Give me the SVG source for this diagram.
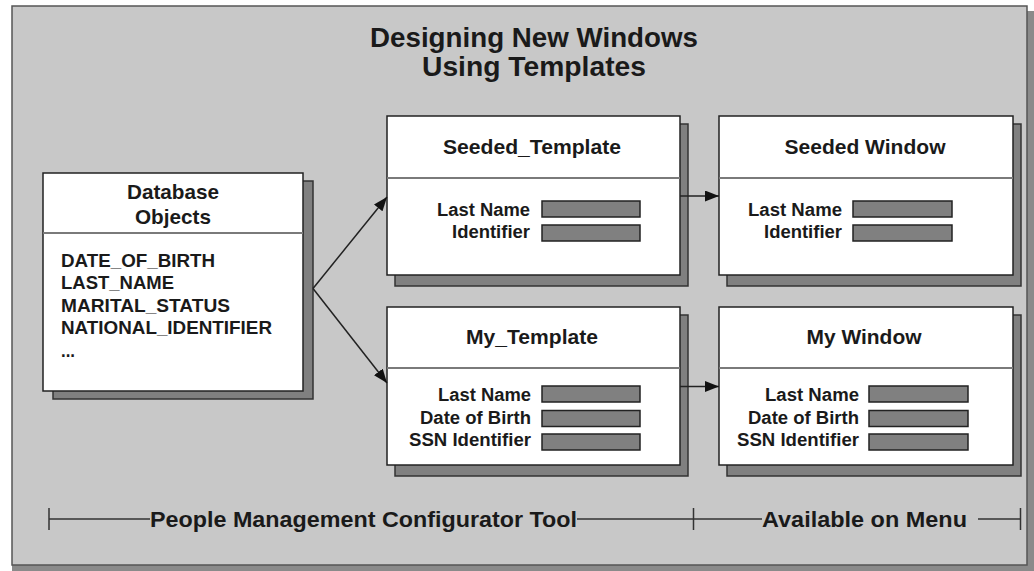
<svg xmlns="http://www.w3.org/2000/svg" width="1034" height="571" viewBox="0 0 1034 571">
<defs>
<style>
.frame{fill:#c8c8c8;stroke:#555;stroke-width:1.5}
.box{fill:#fff;stroke:#222;stroke-width:1.5}
.shadow{fill:#808080;stroke:#333;stroke-width:1.5}
.div{stroke:#7a7a7a;stroke-width:2}
.field{fill:#808080;stroke:#222;stroke-width:1.5}
.t{font-family:"Liberation Sans",Arial,sans-serif;font-weight:bold;fill:#1a1a1a}
.title{font-size:28px;text-anchor:middle}
.head{font-size:21px;text-anchor:middle}
.lab{font-size:18px;text-anchor:end}
.item{font-size:18px}
.foot{font-size:22px}
.conn{stroke:#222;stroke-width:1.5;fill:none}
.tl{stroke:#333;stroke-width:1.5;fill:none}
</style>
<marker id="arr" viewBox="0 0 14 11" refX="14" refY="5.5" markerWidth="14" markerHeight="11" markerUnits="userSpaceOnUse" orient="auto">
<path d="M0,0 L14,5.5 L0,11 Z" fill="#111"/>
</marker>
</defs>
<rect x="0" y="0" width="1034" height="571" fill="#fff"/>
<rect x="12" y="11" width="1022" height="560" fill="#8a8a8a"/>
<rect class="frame" x="12" y="6" width="1015" height="559"/>
<g id="title">
<text class="t title" x="534" y="47" textLength="328" lengthAdjust="spacingAndGlyphs">Designing New Windows</text>
<text class="t title" x="534" y="75.5" textLength="224" lengthAdjust="spacingAndGlyphs">Using Templates</text>
</g>
<g id="database-objects">
<rect class="shadow" x="53" y="181" width="260" height="218"/>
<rect class="box" x="43" y="173" width="260" height="218"/>
<line class="div" x1="43" y1="233" x2="303" y2="233"/>
<text class="t head" x="173" y="199" textLength="92" lengthAdjust="spacingAndGlyphs">Database</text>
<text class="t head" x="173" y="224" textLength="76" lengthAdjust="spacingAndGlyphs">Objects</text>
<text class="t item" x="61" y="266.5" textLength="154" lengthAdjust="spacingAndGlyphs">DATE_OF_BIRTH</text>
<text class="t item" x="61" y="289" textLength="113" lengthAdjust="spacingAndGlyphs">LAST_NAME</text>
<text class="t item" x="61" y="311.5" textLength="169" lengthAdjust="spacingAndGlyphs">MARITAL_STATUS</text>
<text class="t item" x="61" y="334" textLength="211" lengthAdjust="spacingAndGlyphs">NATIONAL_IDENTIFIER</text>
<text class="t item" x="61" y="356.5" textLength="14" lengthAdjust="spacingAndGlyphs">...</text>
</g>
<g id="seeded-template">
<rect class="shadow" x="395" y="124" width="293" height="162"/>
<rect class="box" x="387" y="116" width="293" height="159"/>
<line class="div" x1="387" y1="178" x2="680" y2="178"/>
<text class="t head" x="532" y="153.5" textLength="178" lengthAdjust="spacingAndGlyphs">Seeded_Template</text>
<text class="t lab" x="530" y="215.5" textLength="93" lengthAdjust="spacingAndGlyphs">Last Name</text>
<text class="t lab" x="530" y="237.5" textLength="78" lengthAdjust="spacingAndGlyphs">Identifier</text>
<rect class="field" x="542" y="201" width="98" height="16"/>
<rect class="field" x="542" y="225" width="98" height="16"/>
</g>
<g id="seeded-window">
<rect class="shadow" x="727" y="124" width="294" height="162"/>
<rect class="box" x="719" y="116" width="294" height="159"/>
<line class="div" x1="719" y1="178" x2="1013" y2="178"/>
<text class="t head" x="865" y="153.5" textLength="161" lengthAdjust="spacingAndGlyphs">Seeded Window</text>
<text class="t lab" x="842" y="215.5" textLength="94" lengthAdjust="spacingAndGlyphs">Last Name</text>
<text class="t lab" x="842" y="237.5" textLength="78" lengthAdjust="spacingAndGlyphs">Identifier</text>
<rect class="field" x="853" y="201" width="99" height="16"/>
<rect class="field" x="853" y="225" width="99" height="16"/>
</g>
<g id="my-template">
<rect class="shadow" x="395" y="315" width="293" height="161"/>
<rect class="box" x="387" y="307" width="293" height="158"/>
<line class="div" x1="387" y1="368" x2="680" y2="368"/>
<text class="t head" x="532" y="344" textLength="132" lengthAdjust="spacingAndGlyphs">My_Template</text>
<text class="t lab" x="531" y="400.5" textLength="93" lengthAdjust="spacingAndGlyphs">Last Name</text>
<text class="t lab" x="531" y="423.5" textLength="111" lengthAdjust="spacingAndGlyphs">Date of Birth</text>
<text class="t lab" x="531" y="446" textLength="122" lengthAdjust="spacingAndGlyphs">SSN Identifier</text>
<rect class="field" x="542" y="386" width="98" height="16"/>
<rect class="field" x="542" y="410.5" width="98" height="16"/>
<rect class="field" x="542" y="434" width="98" height="16"/>
</g>
<g id="my-window">
<rect class="shadow" x="727" y="315" width="294" height="161"/>
<rect class="box" x="719" y="307" width="294" height="158"/>
<line class="div" x1="719" y1="368" x2="1013" y2="368"/>
<text class="t head" x="864" y="344" textLength="115" lengthAdjust="spacingAndGlyphs">My Window</text>
<text class="t lab" x="859" y="400.5" textLength="94" lengthAdjust="spacingAndGlyphs">Last Name</text>
<text class="t lab" x="859" y="423.5" textLength="111" lengthAdjust="spacingAndGlyphs">Date of Birth</text>
<text class="t lab" x="859" y="446" textLength="122" lengthAdjust="spacingAndGlyphs">SSN Identifier</text>
<rect class="field" x="869" y="386" width="99" height="16"/>
<rect class="field" x="869" y="410.5" width="99" height="16"/>
<rect class="field" x="869" y="434" width="99" height="16"/>
</g>
<g id="connectors">
<line class="conn" x1="313" y1="288.5" x2="387" y2="197" marker-end="url(#arr)"/>
<line class="conn" x1="313" y1="288.5" x2="387" y2="383" marker-end="url(#arr)"/>
<line class="conn" x1="680" y1="196" x2="719" y2="196" marker-end="url(#arr)"/>
<line class="conn" x1="680" y1="386.5" x2="719" y2="386.5" marker-end="url(#arr)"/>
</g>
<g id="timeline">
<line class="tl" x1="49" y1="508" x2="49" y2="530"/>
<line class="tl" x1="693.5" y1="508" x2="693.5" y2="530"/>
<line class="tl" x1="1020.5" y1="508" x2="1020.5" y2="530"/>
<line class="tl" x1="49" y1="519" x2="150" y2="519"/>
<line class="tl" x1="577" y1="519" x2="762" y2="519"/>
<line class="tl" x1="978" y1="519" x2="1020.5" y2="519"/>
<text class="t foot" x="150" y="526.5" textLength="427" lengthAdjust="spacingAndGlyphs">People Management Configurator Tool</text>
<text class="t foot" x="762" y="526.5" textLength="205" lengthAdjust="spacingAndGlyphs">Available on Menu</text>
</g>
</svg>
